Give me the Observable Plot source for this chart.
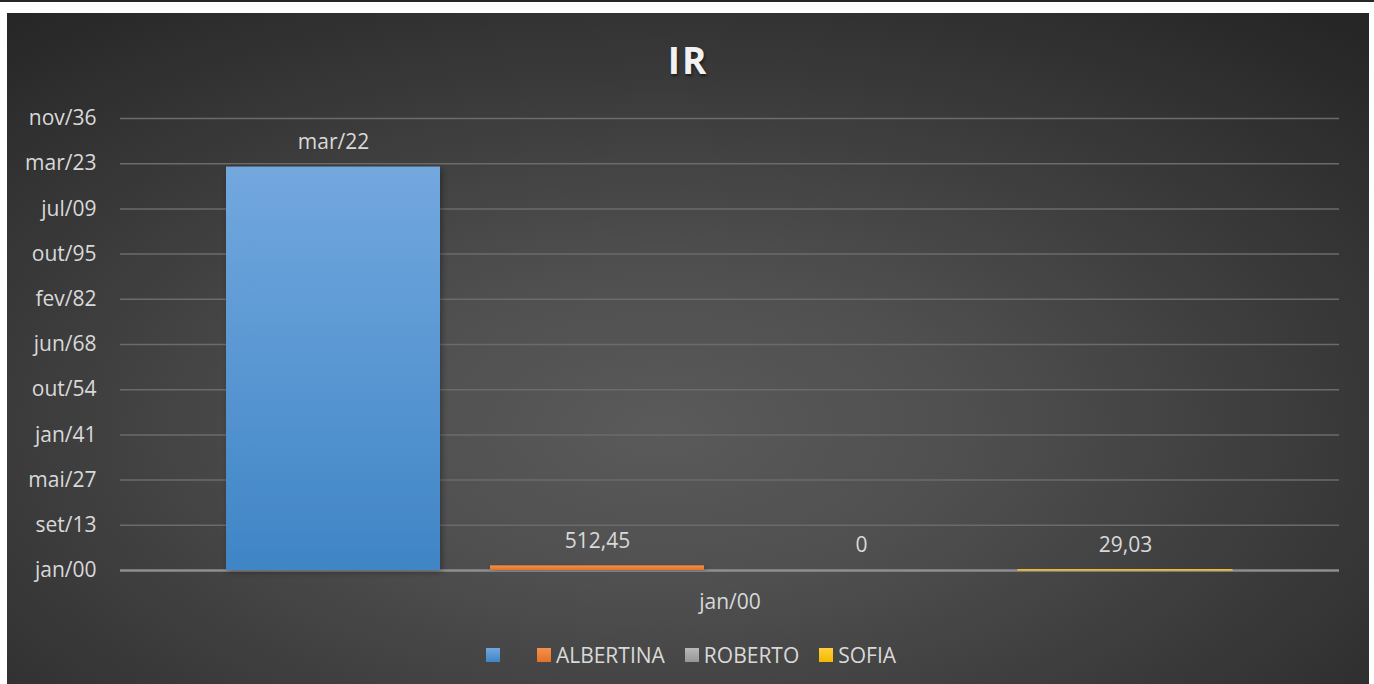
<!DOCTYPE html>
<html>
<head>
<meta charset="utf-8">
<script src="https://cdn.jsdelivr.net/npm/d3@7"></script>
<script src="https://cdn.jsdelivr.net/npm/@observablehq/plot@0.6"></script>
<style>
  html, body { margin: 0; padding: 0; background: #ffffff; width: 1374px; height: 684px; overflow: hidden; }
  #topline { position: absolute; left: 0; top: 0; width: 1374px; height: 2px; background: #262626; }
  #panel {
    position: absolute; left: 7px; top: 13px; width: 1362px; height: 671px; overflow: hidden;
    background: radial-gradient(ellipse 75% 80% at 48% 62%, #5a5a5a 0%, #4f4f4f 30%, #3a3a3a 65%, #262626 100%);
    font-family: "Open Sans", sans-serif;
  }
  #title {
    position: absolute; left: 0; top: 22px; width: 1362px; text-align: center;
    font-size: 37px; font-weight: 700; letter-spacing: 2px; color: #f2f2f2; line-height: 50px;
    text-shadow: 1px 2px 3px rgba(0,0,0,0.55);
  }
  #chart { position: absolute; left: 0; top: 0; }
  #legend {
    position: absolute; left: 3px; top: 628px; width: 1362px; display: flex; justify-content: center;
    font-size: 21px; color: #d9d9d9; line-height: 28px;
  }
  .item { display: flex; align-items: center; margin: 0 10px; }
  .sw { width: 14px; height: 14px; margin-right: 5px; }
</style>
</head>
<body>
<div id="topline"></div>
<div id="panel">
  <div id="chart"></div>
  <div id="title">IR</div>
  <div id="legend"></div>
</div>
<script>
// ---- data ----
const seriesNames = ["", "ALBERTINA", "ROBERTO", "SOFIA"];
const seriesValues = [44630, 512.45, 0, 29.03];
const dataLabels = ["mar/22", "512,45", "0", "29,03"];
const categoryLabel = "jan/00";
const yTickValues = [0, 5000, 10000, 15000, 20000, 25000, 30000, 35000, 40000, 45000, 50000];
const yTickLabels = ["jan/00", "set/13", "mai/27", "jan/41", "out/54", "jun/68", "fev/82", "out/95", "jul/09", "mar/23", "nov/36"];
const seriesColors = [
  ["#72a8de", "#3f85c6"],
  ["#f5904c", "#e37226"],
  ["#b8b8b8", "#979797"],
  ["#ffd03c", "#f2b800"]
];
const seriesEdge = ["none", "none", "none", "#f7c52a"];

const rows = seriesNames.map((name, i) => ({name, value: seriesValues[i], label: dataLabels[i], idx: i}));
const tickLabelOf = new Map(yTickValues.map((v, i) => [v, yTickLabels[i]]));

const defsMark = () => {
  const ns = "http://www.w3.org/2000/svg";
  const defs = document.createElementNS(ns, "defs");
  seriesColors.forEach((c, i) => {
    const g = document.createElementNS(ns, "linearGradient");
    g.setAttribute("id", "grad" + i);
    g.setAttribute("x1", "0"); g.setAttribute("y1", "0");
    g.setAttribute("x2", "0"); g.setAttribute("y2", "1");
    [[0, c[0]], [1, c[1]]].forEach(([o, col]) => {
      const s = document.createElementNS(ns, "stop");
      s.setAttribute("offset", o);
      s.setAttribute("stop-color", col);
      g.appendChild(s);
    });
    defs.appendChild(g);
  });
  const f = document.createElementNS(ns, "filter");
  f.setAttribute("id", "barshadow");
  f.setAttribute("x", "-10%"); f.setAttribute("y", "-10%");
  f.setAttribute("width", "130%"); f.setAttribute("height", "130%");
  f.innerHTML = '<feDropShadow dx="2" dy="2" stdDeviation="3" flood-color="#000" flood-opacity="0.35"/>';
  defs.appendChild(f);
  return defs;
};

const plot = Plot.plot({
  width: 1362,
  height: 671,
  marginLeft: 113,
  marginRight: 30,
  marginTop: 105,
  marginBottom: 114,
  style: { background: "transparent", color: "#d9d9d9", fontFamily: "'Open Sans', sans-serif", fontSize: "21px", overflow: "visible" },
  x: { type: "band", domain: seriesNames, range: [194, 1251], paddingInner: 0.189, paddingOuter: 0.0945, axis: null },
  y: { domain: [0, 50000], ticks: yTickValues, tickFormat: d => tickLabelOf.get(d), tickSize: 0, tickPadding: 24, label: null },
  marks: [
    defsMark,
    Plot.ruleY(yTickValues.slice(1), { stroke: "#6b6b6b", strokeWidth: 1.5 }),
    Plot.axisY({ ticks: yTickValues, tickFormat: d => tickLabelOf.get(d), tickSize: 0, tickPadding: 24, label: null, fontSize: 21, fill: "#d9d9d9" }),
    Plot.ruleY([0], { stroke: "#8f8f8f", strokeWidth: 2.5 }),
    ...rows.map(r => Plot.barY([r], { x: "name", y: "value", fill: `url(#grad${r.idx})`, stroke: seriesEdge[r.idx], strokeWidth: 1.2, filter: d => d.value > 0 })),
    Plot.text(rows, { x: "name", y: "value", text: "label", dy: -25, lineAnchor: "middle", fill: "#d9d9d9", fontSize: 21 }),
    Plot.text([categoryLabel], { frameAnchor: "bottom", text: d => d, dy: 32, lineAnchor: "middle", fill: "#d9d9d9", fontSize: 21 })
  ]
});
document.getElementById("chart").appendChild(plot);
d3.select(plot).selectAll("g[aria-label='bar'] rect").attr("filter", "url(#barshadow)");

// legend
const legend = d3.select("#legend");
seriesNames.forEach((name, i) => {
  const item = legend.append("div").attr("class", "item");
  item.append("div").attr("class", "sw")
    .style("background", `linear-gradient(${seriesColors[i][0]}, ${seriesColors[i][1]})`);
  item.append("span").style("display", "inline-block").style("min-width", name ? null : "12px").text(name);
});
</script>
</body>
</html>
